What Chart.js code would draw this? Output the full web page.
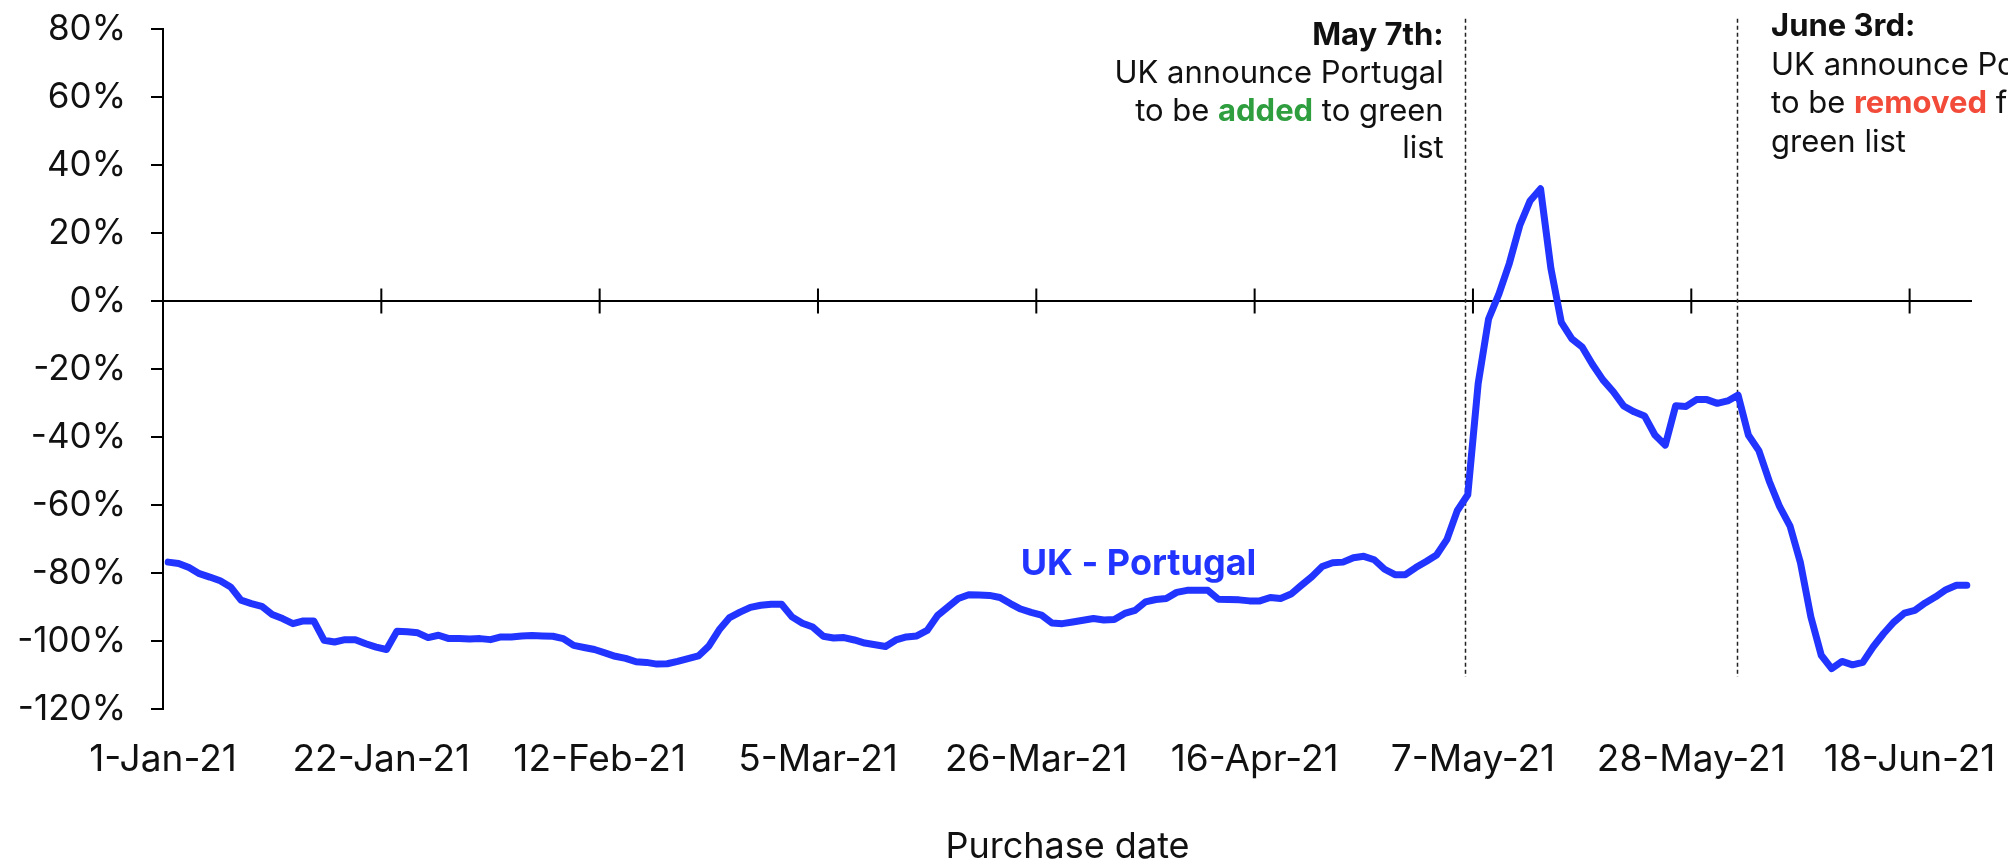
<!DOCTYPE html>
<html>
<head>
<meta charset="utf-8">
<script src="https://cdn.jsdelivr.net/npm/chart.js@4.4.0/dist/chart.umd.min.js"></script>
<style>
  html, body { margin: 0; padding: 0; background: #fff; }
  #wrap { width: 2008px; height: 867px; }
</style>
</head>
<body>
<div id="wrap"><canvas id="chart" width="2008" height="867"></canvas></div>
<script>
// days since 1-Jan-21 for the axis labels
const tickDays = [0, 21, 42, 63, 84, 105, 126, 147, 168];
const tickLabels = ['1-Jan-21', '22-Jan-21', '12-Feb-21', '5-Mar-21', '26-Mar-21', '16-Apr-21', '7-May-21', '28-May-21', '18-Jun-21'];

// daily change vs 2019 (%), one value per purchase day from 1-Jan-21
const ukPortugal = [
  -76.8, -77.2, -78.4, -80.2, -81.2, -82.3, -84.1, -88.0, -89.0, -89.8,
  -92.2, -93.4, -94.9, -94.1, -94.1, -99.8, -100.3, -99.6, -99.6, -100.8,
  -101.8, -102.5, -97.1, -97.3, -97.6, -99.0, -98.3, -99.3, -99.3, -99.4,
  -99.3, -99.6, -98.8, -98.8, -98.5, -98.4, -98.5, -98.6, -99.3, -101.3,
  -101.9, -102.5, -103.5, -104.5, -105.1, -106.1, -106.3, -106.8, -106.7, -106.0,
  -105.2, -104.4, -101.5, -96.7, -93.1, -91.5, -90.1, -89.5, -89.2, -89.2,
  -92.9, -94.8, -95.9, -98.6, -99.1, -99.0, -99.7, -100.6, -101.1, -101.6,
  -99.7, -98.8, -98.5, -96.9, -92.5, -90.0, -87.5, -86.4, -86.5, -86.6,
  -87.2, -89.0, -90.6, -91.6, -92.4, -94.7, -94.9, -94.4, -93.9, -93.4,
  -93.8, -93.7, -91.9, -91.0, -88.5, -87.8, -87.5, -85.7, -85.1, -85.1,
  -85.1, -87.7, -87.8, -87.9, -88.2, -88.2, -87.2, -87.5, -86.2, -83.6,
  -81.1, -78.1, -77.0, -76.8, -75.5, -75.1, -76.1, -78.9, -80.5, -80.5,
  -78.4, -76.6, -74.7, -70.1, -61.6, -57.0, -24.3, -5.3, 2.1, 11.1,
  22.2, 29.5, 33.0, 9.5, -6.3, -11.1, -13.5, -18.7, -23.2, -26.7,
  -30.9, -32.6, -33.8, -39.4, -42.4, -30.8, -31.0, -29.0, -29.0, -30.1,
  -29.4, -27.7, -39.5, -44.0, -53.0, -60.5, -66.2, -77.0, -92.9, -104.2,
  -108.1, -106.0, -107.0, -106.3, -101.7, -97.8, -94.4, -91.8, -91.0, -88.8,
  -87.0, -84.9, -83.6, -83.6
];

// announcement dates (position on the day axis)
const eventDays = [125.2, 151.4];

const FONT = 'Inter, "Noto Sans", sans-serif';
const BLUE = '#2234ff';

function drawRuns(ctx, runs, x, y, align) {
    const widths = runs.map(r => {
        ctx.font = r.font;
        return ctx.measureText(r.text).width;
    });
    const total = widths.reduce((a, b) => a + b, 0);
    let cx = align === 'right' ? x - total : x;
    runs.forEach((r, i) => {
        ctx.font = r.font;
        ctx.fillStyle = r.color;
        ctx.textAlign = 'left';
        ctx.textBaseline = 'alphabetic';
        ctx.fillText(r.text, cx, y);
        cx += widths[i];
    });
}

const annotations = {
    id: 'annotations',
    beforeDatasetsDraw(chart) {
        const { ctx, chartArea, scales: { x, y } } = chart;
        const y0 = y.getPixelForValue(0);
        ctx.save();
        ctx.strokeStyle = '#000';
        ctx.lineWidth = 2;
        ctx.beginPath();
        ctx.moveTo(chartArea.left, y0);
        ctx.lineTo(chartArea.right, y0);
        tickDays.forEach(d => {
            if (d === 0) return;
            const px = x.getPixelForValue(d);
            ctx.moveTo(px, y0 - 12.5);
            ctx.lineTo(px, y0 + 12.5);
        });
        ctx.stroke();

        ctx.setLineDash([4, 3]);
        ctx.lineWidth = 1.5;
        ctx.strokeStyle = '#222';
        eventDays.forEach(d => {
            const px = Math.round(x.getPixelForValue(d)) + 0.5;
            ctx.beginPath();
            ctx.moveTo(px, y.getPixelForValue(83));
            ctx.lineTo(px, y.getPixelForValue(-110.6));
            ctx.stroke();
        });
        ctx.restore();
    },
    afterDatasetsDraw(chart) {
        const { ctx, scales: { x, y } } = chart;
        const reg = '31px ' + FONT;
        const bold = 'bold 31px ' + FONT;
        ctx.save();

        const mayX = x.getPixelForValue(eventDays[0]) - 21;
        drawRuns(ctx, [{ text: 'May 7th:', font: bold, color: '#111' }], mayX, 45, 'right');
        drawRuns(ctx, [{ text: 'UK announce Portugal', font: reg, color: '#111' }], mayX, 83, 'right');
        drawRuns(ctx, [
            { text: 'to be ', font: reg, color: '#111' },
            { text: 'added', font: bold, color: '#2e9e3f' },
            { text: ' to green', font: reg, color: '#111' }
        ], mayX, 121, 'right');
        drawRuns(ctx, [{ text: 'list', font: reg, color: '#111' }], mayX, 158, 'right');

        const junX = x.getPixelForValue(eventDays[1]) + 34;
        drawRuns(ctx, [{ text: 'June 3rd:', font: bold, color: '#111' }], junX, 36, 'left');
        drawRuns(ctx, [{ text: 'UK announce Portugal', font: reg, color: '#111' }], junX, 75, 'left');
        drawRuns(ctx, [
            { text: 'to be ', font: reg, color: '#111' },
            { text: 'removed', font: bold, color: '#f24b3a' },
            { text: ' from', font: reg, color: '#111' }
        ], junX, 113, 'left');
        drawRuns(ctx, [{ text: 'green list', font: reg, color: '#111' }], junX, 152, 'left');

        // series label
        drawRuns(ctx, [{ text: 'UK - Portugal', font: 'bold 36px ' + FONT, color: BLUE }],
            x.getPixelForValue(82.5), y.getPixelForValue(-80.7), 'left');
        ctx.restore();
    }
};

const ctx = document.getElementById('chart').getContext('2d');
const chart = new Chart(ctx, {
    type: 'line',
    data: {
        datasets: [{
            label: 'UK - Portugal',
            data: ukPortugal.map((v, i) => ({ x: i + 0.5, y: v })),
            borderColor: BLUE,
            borderWidth: 7,
            borderJoinStyle: 'round',
            borderCapStyle: 'round',
            pointRadius: 0,
            tension: 0,
            fill: false
        }]
    },
    options: {
        responsive: false,
        animation: false,
        devicePixelRatio: 1,
        layout: {
            padding: { top: 29, right: 36, bottom: 0, left: 0 }
        },
        plugins: {
            legend: { display: false },
            tooltip: { enabled: false }
        },
        scales: {
            x: {
                type: 'linear',
                min: 0,
                max: 174,
                afterBuildTicks: axis => {
                    axis.ticks = tickDays.map(value => ({ value }));
                },
                afterFit: scale => {
                    scale.height = 158;
                    scale.paddingLeft = 0;
                    scale.paddingRight = 0;
                },
                grid: { display: false, drawTicks: false },
                border: { display: false },
                ticks: {
                    autoSkip: false,
                    maxRotation: 0,
                    padding: 29,
                    color: '#111',
                    font: { family: FONT, size: 37 },
                    callback: value => tickLabels[tickDays.indexOf(value)]
                },
                title: {
                    display: true,
                    text: 'Purchase date',
                    color: '#111',
                    font: { family: FONT, size: 36, lineHeight: 1.1 },
                    padding: { top: 0, bottom: 0 }
                }
            },
            y: {
                min: -120,
                max: 80,
                afterFit: scale => {
                    scale.width = 163;
                    scale.paddingTop = 0;
                    scale.paddingBottom = 0;
                },
                grid: {
                    drawOnChartArea: false,
                    drawTicks: true,
                    tickLength: 12,
                    color: '#000',
                    lineWidth: 2
                },
                border: { display: true, color: '#000', width: 2 },
                ticks: {
                    stepSize: 20,
                    padding: 25,
                    color: '#111',
                    font: { family: FONT, size: 35 },
                    callback: value => value + '%'
                }
            }
        }
    },
    plugins: [annotations]
});
</script>
</body>
</html>
